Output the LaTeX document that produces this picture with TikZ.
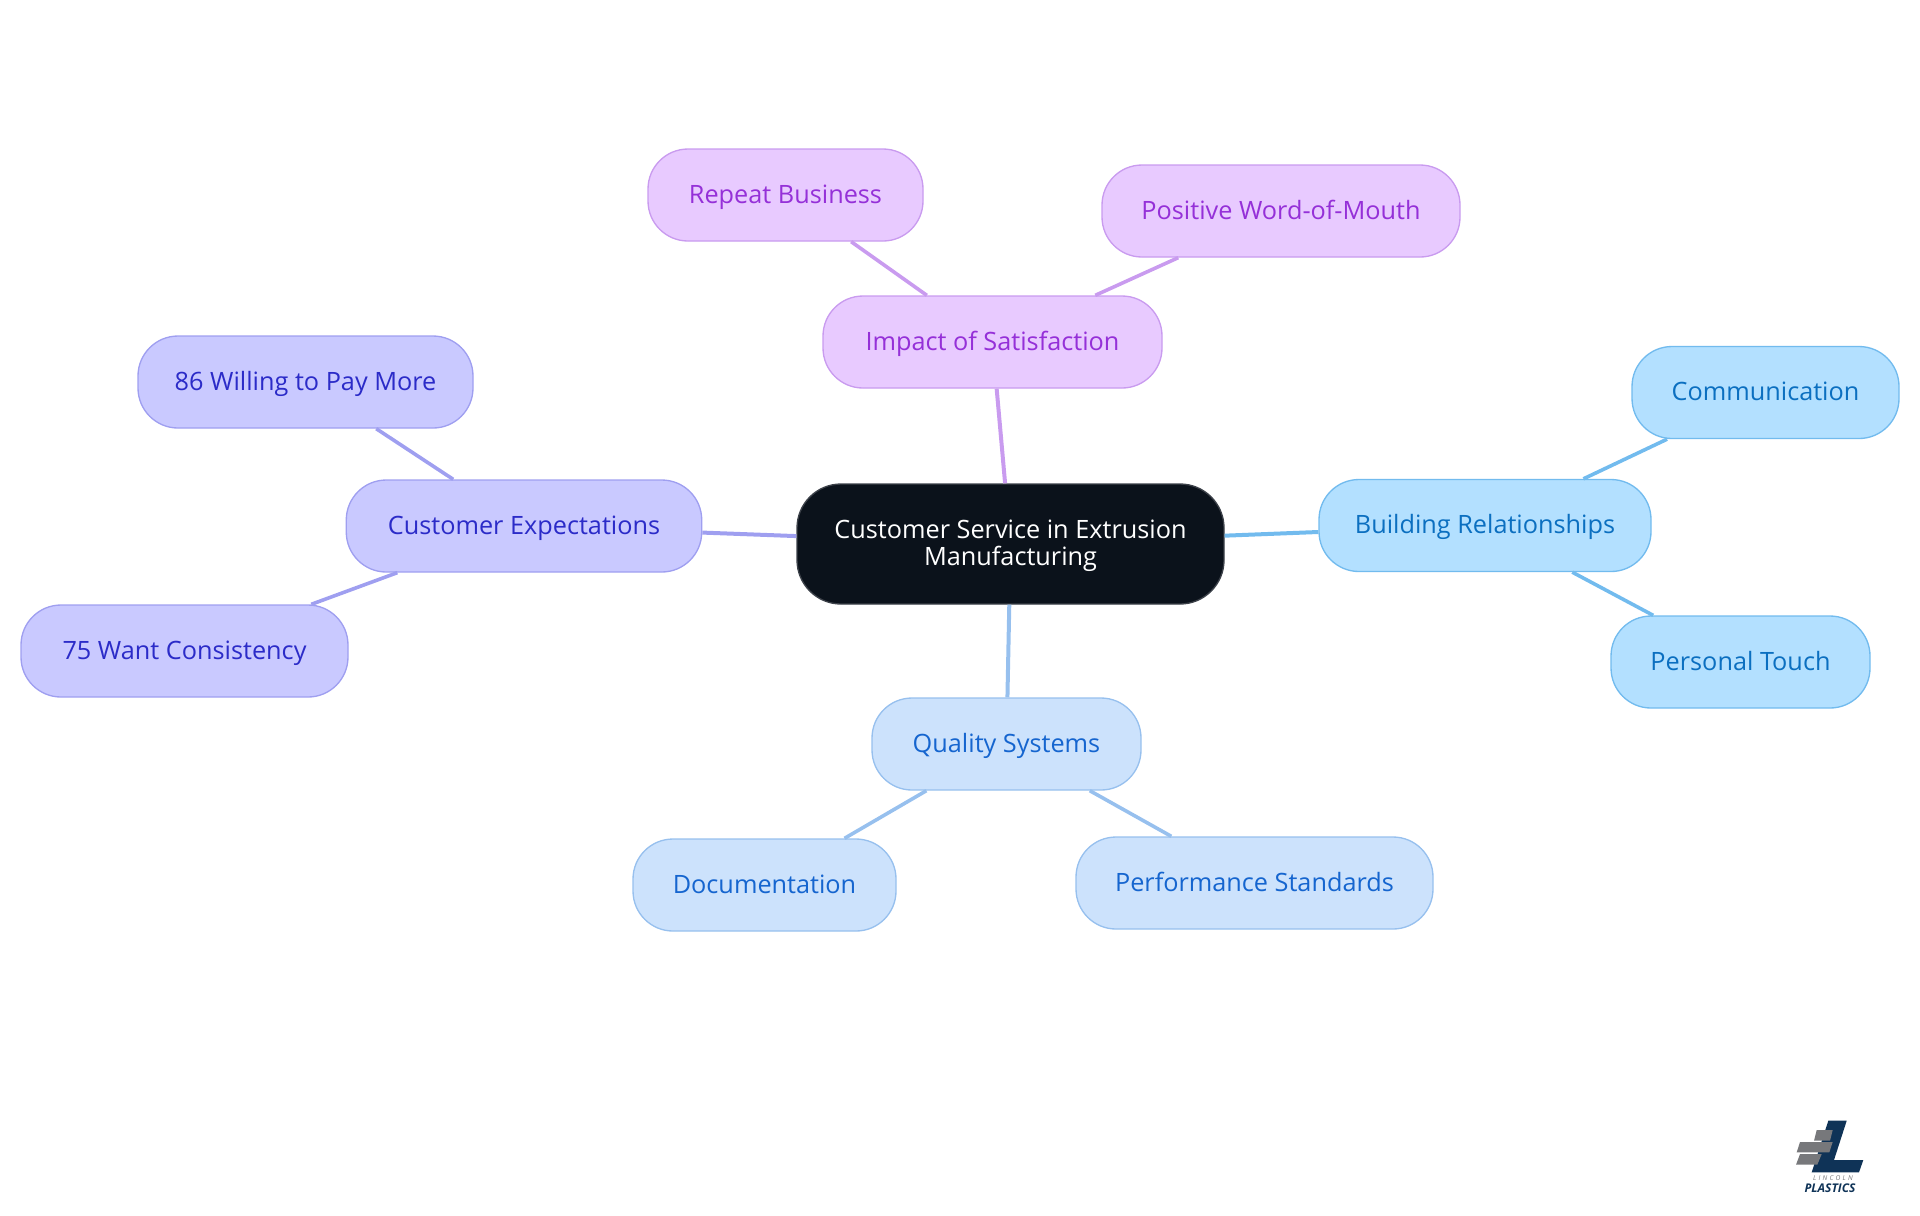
\documentclass[tikz,border=0pt]{standalone}
\usepackage{fontspec}
\setmainfont{Open Sans}
\definecolor{rootfill}{HTML}{0B121B}
\definecolor{indigofill}{HTML}{C9C9FF}
\definecolor{indigoline}{HTML}{9F9FF0}
\definecolor{indigotext}{HTML}{2B2BC8}
\definecolor{violetfill}{HTML}{E8CAFF}
\definecolor{violetline}{HTML}{C99BEF}
\definecolor{violettext}{HTML}{9530D8}
\definecolor{skyfill}{HTML}{B3E0FF}
\definecolor{skyline}{HTML}{72BBEE}
\definecolor{skytext}{HTML}{0B6FC0}
\definecolor{bluefill}{HTML}{CCE2FC}
\definecolor{blueline}{HTML}{97C0EE}
\definecolor{bluetext}{HTML}{1565CF}
\definecolor{logonavy}{HTML}{0F3357}
\definecolor{logogray}{HTML}{77787B}
\tikzset{
  topic/.style={draw, line width=1pt, rounded corners=30pt, inner sep=0pt, minimum height=69pt,
    font=\fontsize{18.95}{20.25}\selectfont, align=center, text height=16.4pt, text depth=4pt},
  rootnode/.style={topic, fill=rootfill, draw=rootfill!80!white, text=white, rounded corners=33pt, minimum height=90pt,
    text height=36.8pt, text depth=4pt},
  indigonode/.style={topic, fill=indigofill, draw=indigoline, text=indigotext},
  violetnode/.style={topic, fill=violetfill, draw=violetline, text=violettext},
  skynode/.style={topic, fill=skyfill, draw=skyline, text=skytext},
  bluenode/.style={topic, fill=bluefill, draw=blueline, text=bluetext},
}
\begin{document}
\begin{tikzpicture}[x=0.75pt,y=-0.75pt]
\useasboundingbox (0,0) rectangle (1920,1215);
\node[rootnode, minimum width=320.25pt] (root) at (1010.5,544) {Customer Service in Extrusion\\Manufacturing};
\node[violetnode, minimum width=254.25pt] (impact) at (992.5,342) {Impact of Satisfaction};
\node[violetnode, minimum width=206.25pt] (repeat) at (785.5,195) {Repeat Business};
\node[violetnode, minimum width=268.5pt] (word) at (1281,211) {Positive Word-of-Mouth};
\node[indigonode, minimum width=266.6pt] (expect) at (524,526) {Customer Expectations};
\node[indigonode, minimum width=251.25pt] (pay) at (305.5,382) {86 Willing to Pay More};
\node[indigonode, minimum width=245.25pt] (consist) at (184.5,651) {75 Want Consistency};
\node[skynode, minimum width=249pt] (build) at (1485,525.5) {Building Relationships};
\node[skynode, minimum width=200.25pt] (comm) at (1765.5,392.5) {Communication};
\node[skynode, minimum width=194.25pt] (touch) at (1740.5,662) {Personal Touch};
\node[bluenode, minimum width=201.75pt] (quality) at (1006.5,744) {Quality Systems};
\node[bluenode, minimum width=197.25pt] (docs) at (764.5,885) {Documentation};
\node[bluenode, minimum width=267.75pt] (perf) at (1254.5,883) {Performance Standards};
% branches
\draw[violetline, line width=3pt] (root) -- (impact);
\draw[violetline, line width=2.7pt] (impact) -- (repeat);
\draw[violetline, line width=2.7pt] (impact) -- (word);
\draw[indigoline, line width=3pt] (root) -- (expect);
\draw[indigoline, line width=2.7pt] (expect) -- (pay);
\draw[indigoline, line width=2.7pt] (expect) -- (consist);
\draw[skyline, line width=3pt] (root) -- (build);
\draw[skyline, line width=2.7pt] (build) -- (comm);
\draw[skyline, line width=2.7pt] (build) -- (touch);
\draw[blueline, line width=3pt] (root) -- (quality);
\draw[blueline, line width=2.7pt] (quality) -- (docs);
\draw[blueline, line width=2.7pt] (quality) -- (perf);
% logo
\fill[logonavy] (1828.3,1120.7) -- (1846.7,1120.7) -- (1834,1160) -- (1863.3,1160) -- (1859,1172.3) -- (1811.7,1172.3) -- cycle;
\fill[logogray] (1816.7,1130) -- (1832.7,1130) -- (1830,1140.7) -- (1814,1140.7) -- cycle;
\fill[logogray] (1800,1142) -- (1832.7,1142) -- (1829.3,1152.3) -- (1796.7,1152.3) -- cycle;
\fill[logogray] (1800,1154) -- (1821.7,1154) -- (1817.3,1164.7) -- (1796,1164.7) -- cycle;
\node[font=\fontsize{5}{5}\selectfont\itshape, text=logogray, inner sep=0pt] (logotop) at (1833,1178.5) {L\,\,I\,\,N\,\,C\,\,O\,\,L\,\,N};
\node[font=\fontsize{9}{9}\selectfont\bfseries\itshape, text=logonavy, inner sep=0pt] (logoname) at (1830,1188.5) {PLASTICS};
\end{tikzpicture}
\end{document}
